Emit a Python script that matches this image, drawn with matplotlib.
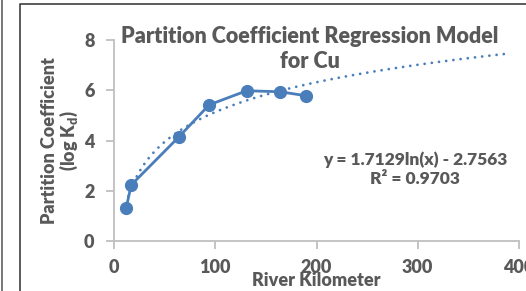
import numpy as np
import matplotlib
matplotlib.use("Agg")
from matplotlib import pyplot as plt
from matplotlib.lines import Line2D

# data
river_km = [12, 17, 64, 94, 131, 164, 190]
log_kd = [1.31, 2.23, 4.14, 5.42, 5.98, 5.94, 5.78]
fit_a, fit_b = 1.7129, -2.7563
fit_end = 390

blue = "#4A7EBB"
gray = "#595959"
plt.rcParams["font.family"] = ["Lato", "DejaVu Sans"]
plt.rcParams["font.weight"] = "heavy"

fig = plt.figure(figsize=(5.26, 2.91), dpi=100)
ax = fig.add_axes([114 / 526, 1 - 241 / 291, (519 - 114) / 526, (241 - 40) / 291])

# log trend line
xs = np.linspace(min(river_km), fit_end, 200)
ax.plot(xs, fit_a * np.log(xs) + fit_b, color=blue, lw=2, ls=(0, (0.01, 2.6)),
        dash_capstyle="round")
ax.plot(river_km, log_kd, color=blue, lw=2, marker="o", ms=8.5, zorder=3)

ax.set_xlim(0, 400)
ax.set_ylim(0, 8)
ax.set_xticks([0, 100, 200, 300, 400])
ax.set_yticks([0, 2, 4, 6, 8])
for s in ["top", "right"]:
    ax.spines[s].set_visible(False)
for s in ["left", "bottom"]:
    ax.spines[s].set_color("#BFBFBF")
    ax.spines[s].set_linewidth(1.3)
ax.tick_params(colors="#BFBFBF", width=1.3, length=6, labelcolor=gray, labelsize=13)
for lab in ax.get_xticklabels() + ax.get_yticklabels():
    lab.set_fontweight("heavy")
ax.tick_params(axis="x", pad=7)
ax.tick_params(axis="y", pad=8)

ax.set_xlabel("River Kilometer", fontsize=13, fontweight="heavy", color=gray, labelpad=-3)
ax.set_ylabel("Partition Coefficient\n(log K$_\\mathregular{d}$)", fontsize=13,
              fontweight="heavy", color=gray, labelpad=3, linespacing=1.0)

fig.text(310 / 526, 1 - 49 / 291, "Partition Coefficient Regression Model\nfor Cu",
         ha="center", va="center", fontsize=15.5, fontweight="heavy", color=gray,
         linespacing=1.2)
fig.text(415 / 526, 1 - 169 / 291, "y = 1.7129ln(x) - 2.7563\nR² = 0.9703",
         ha="center", va="center", fontsize=12.5, fontweight="heavy", color=gray,
         linespacing=1.25)

# frame borders from the page
fig.add_artist(Line2D([20 / 526, 20 / 526, 1], [0, 1 - 4 / 291, 1 - 4 / 291],
                      transform=fig.transFigure, color="#404040", lw=1.2))
fig.add_artist(Line2D([2 / 526, 2 / 526], [0, 1], transform=fig.transFigure,
                      color="#606060", lw=1.2))

fig.savefig("out.png", dpi=100)
